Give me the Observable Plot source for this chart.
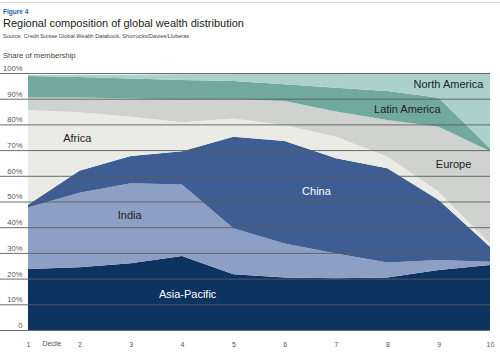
<!DOCTYPE html>
<html>
<head>
<meta charset="utf-8">
<script src="https://cdn.jsdelivr.net/npm/d3@7"></script>
<script src="https://cdn.jsdelivr.net/npm/@observablehq/plot@0.6"></script>
<style>
  html, body { margin: 0; padding: 0; background: #fff; }
  body { width: 500px; height: 353px; overflow: hidden; font-family: "Liberation Sans", Arial, sans-serif; }
  #header { position: relative; height: 64px; }
  #topline { position: absolute; left: 0; top: 2px; width: 500px; height: 1px; background: #d4d4d4; }
  #fig { position: absolute; left: 3px; top: 8px; font-size: 6.5px; font-weight: bold; color: #1d5c9e; }
  #title { position: absolute; left: 3px; top: 17px; font-size: 11px; color: #222; letter-spacing: 0; }
  #source { position: absolute; left: 3px; top: 33px; font-size: 5.6px; color: #444; }
  #ylab { position: absolute; left: 3px; top: 51px; font-size: 7.6px; color: #444; }
  svg { display: block; }
</style>
</head>
<body>
<div id="header">
  <div id="topline"></div>
  <div id="fig">Figure 4</div>
  <div id="title">Regional composition of global wealth distribution</div>
  <div id="source">Source: Credit Suisse Global Wealth Databook, Shorrocks/Davies/Lluberas</div>
  <div id="ylab">Share of membership</div>
</div>
<div id="chart"></div>
<script>
// Deciles
const deciles = [1, 2, 3, 4, 5, 6, 7, 8, 9, 10];
// Regions in stacking order (bottom to top)
const regions = ["Asia-Pacific", "India", "China", "Africa", "Europe", "Latin America", "North America"];
// Share of membership (%) per decile
const asiaPacific  = [23.7, 24.4, 26.0, 28.8, 21.7, 20.4, 20.1, 20.4, 23.3, 25.3];
const india        = [24.0, 29.0, 31.1, 27.8, 17.9, 13.3,  9.7,  5.9,  3.9,  1.3];
const china        = [ 1.0,  8.6, 10.6, 13.0, 35.6, 39.8, 37.0, 36.6, 23.4,  5.8];
const africa       = [36.9, 22.7, 15.3, 11.2,  7.1,  6.3,  8.4,  4.6,  3.2,  1.3];
const europe       = [ 4.9,  5.8,  7.1,  8.8,  7.5,  9.3,  9.8, 14.2, 25.3, 35.9];
const latinAmerica = [ 8.3,  7.9,  7.8,  7.7,  7.1,  6.5,  9.3, 11.3, 11.3,  1.0];
const northAmerica = [ 0.4,  0.9,  1.4,  2.2,  2.7,  4.1,  5.5,  7.0,  9.6, 29.4];
const colors = ["#0d3360", "#8e9fc6", "#3e5d92", "#ebebe6", "#cfd2cf", "#71a99e", "#acd0cb"];
const yTicks = [0, 10, 20, 30, 40, 50, 60, 70, 80, 90, 100];
// Region label anchors (decile, %)
const labelX = [4.10, 2.97, 6.61, 1.95, 9.28, 8.38, 9.18];
const labelY = [14.0, 44.7, 54.1, 74.7, 64.6, 86.0, 95.7];
const labelFill = ["#fff", "#222", "#fff", "#222", "#222", "#222", "#222"];

const series = [asiaPacific, india, china, africa, europe, latinAmerica, northAmerica];
const data = [];
regions.forEach((r, i) => deciles.forEach((d, j) => data.push({region: r, decile: d, share: series[i][j]})));
const labels = regions.map((r, i) => ({region: r, x: labelX[i], y: labelY[i], fill: labelFill[i]}));

const chart = Plot.plot({
  width: 500,
  height: 289,
  marginTop: 9,
  marginBottom: 23,
  marginLeft: 28,
  marginRight: 10,
  style: {fontFamily: "Liberation Sans, Arial, sans-serif", background: "#fff"},
  x: {domain: [1, 10]},
  y: {domain: [0, 100]},
  color: {domain: regions, range: colors},
  marks: [
    Plot.areaY(data, {x: "decile", y: "share", z: "region", fill: "region", order: regions, curve: "linear"}),
    Plot.ruleY(yTicks, {stroke: "#5c5c5c", strokeWidth: 0.9, insetLeft: -28}),
    Plot.axisY(yTicks, {tickSize: 0, tickPadding: 6, dy: -5, fontSize: 7.6, fill: "#555", tickFormat: d => d === 0 ? "0" : d + "%", label: null}),
    Plot.axisX(deciles, {tickSize: 0, tickPadding: 12, fontSize: 7, fill: "#555", tickFormat: d => String(d), label: null}),
    Plot.text([{x: 1, t: "Decile"}], {x: "x", y: 0, text: "t", frameAnchor: "bottom", textAnchor: "start", dx: 14, dy: 15, fontSize: 6.8, fill: "#555"}),
    Plot.text(labels, {x: "x", y: "y", text: "region", fill: "fill", fontSize: 11, textAnchor: "middle"})
  ]
});
document.getElementById("chart").appendChild(chart);
</script>
</body>
</html>
